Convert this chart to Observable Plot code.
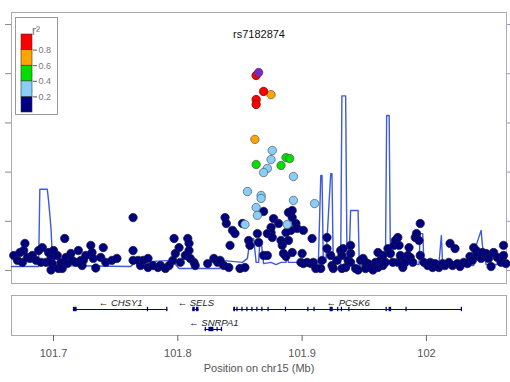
<!DOCTYPE html>
<html><head><meta charset="utf-8">
<script src="https://cdn.jsdelivr.net/npm/d3@7"></script>
<script src="https://cdn.jsdelivr.net/npm/@observablehq/plot@0.6"></script>
<style>
body{margin:0;background:#fff;font-family:"Liberation Sans",Arial,sans-serif;}
#wrap{position:relative;width:510px;height:382px;overflow:hidden;}
#legend{position:absolute;left:15px;top:17px;border:1px solid #999;background:#fff;}
svg{display:block}
</style></head><body>
<div id="wrap"><div id="main"></div><div id="genes"></div><div id="legend"></div></div>
<script>
// ---------- data ----------
const title = "rs7182874";
const xTicks = [101.7, 101.8, 101.9, 102];
const logpTicks = [0, 2, 4, 6, 8, 10];
const recombTicks = [0, 20, 40, 60, 80, 100];
const xTitle = "Position on chr15 (Mb)";

// LD bins (r2 value representative) and colours
const binLo = [0, 0.2, 0.4, 0.6, 0.8];
const binHi = [0.2, 0.4, 0.6, 0.8, 1.0];
const binColor = ["#000080", "#87CEFA", "#00E000", "#FFA500", "#FF0000"];
const legendTicks = [0.2, 0.4, 0.6, 0.8];
const indexColor = "#7D26CD";

// SNPs: [position Mb, -log10 p]
const snpR2lt02 = [
 [101.668,0.61],[101.671,0.41],[101.673,0.73],[101.675,0.33],[101.676,0.81],[101.677,1.10],[101.679,0.53],
 [101.681,0.49],[101.683,0.61],[101.686,0.41],[101.688,0.81],[101.691,0.93],[101.690,0.33],[101.694,0.33],
 [101.696,0.73],[101.698,0.49],[101.699,0.28],[101.698,0.02],[101.700,0.81],[101.703,0.61],[101.704,0.08],
 [101.706,0.33],[101.707,0.08],[101.709,1.30],[101.710,0.53],[101.711,0.28],[101.714,0.69],[101.715,0.41],
 [101.718,0.33],[101.720,0.81],[101.722,0.41],[101.723,0.20],[101.724,0.41],[101.726,0.61],[101.730,1.02],
 [101.731,0.73],[101.732,0.49],[101.734,0.10],[101.738,0.53],[101.740,0.93],[101.742,0.33],[101.747,0.41],
 [101.751,0.49],[101.764,2.15],[101.764,0.81],[101.764,0.41],
 [101.768,0.41],[101.770,0.20],[101.772,0.41],[101.776,0.49],[101.776,0.12],[101.780,0.20],[101.784,0.12],
 [101.786,0.20],[101.790,0.08],[101.793,0.20],[101.796,0.41],[101.797,1.30],[101.798,0.69],[101.801,0.93],
 [101.802,0.33],[101.806,0.61],[101.808,1.30],[101.809,1.10],[101.809,0.81],[101.810,0.49],[101.813,0.33],
 [101.814,0.20],[101.824,0.28],[101.829,0.49],[101.832,0.33],[101.834,0.41],[101.837,0.20],[101.838,2.15],
 [101.839,1.91],[101.841,0.12],[101.842,1.02],[101.844,1.63],[101.846,1.50],[101.850,0.08],[101.854,0.12],
 [101.852,1.91],[101.857,1.22],[101.858,1.02],[101.864,1.50],[101.865,1.14],[101.869,2.40],[101.875,1.75],
 [101.877,2.11],[101.881,1.91],[101.889,2.36],[101.892,2.44],[101.892,2.15],[101.895,1.91],[101.896,1.71],
 [101.875,1.54],[101.872,1.50],[101.876,1.34],[101.883,1.22],[101.884,1.02],[101.889,1.22],[101.901,1.63],
 [101.908,1.30],[101.920,1.34],[101.920,0.89],[101.885,0.69],[101.887,0.57],[101.869,0.61],[101.872,0.61],
 [101.899,0.33],[101.901,0.28],[101.904,0.33],[101.907,0.28],[101.909,0.33],[101.891,1.63],[101.887,1.54],
 [101.892,0.73],[101.900,0.69],[101.911,0.08],[101.915,0.08],[101.916,0.41],[101.923,0.61],[101.924,0.20],
 [101.925,0.08],[101.928,0.41],[101.931,0.81],[101.932,0.61],[101.932,0.08],[101.935,0.12],[101.937,0.41],
 [101.939,1.02],[101.939,0.69],[101.933,0.89],[101.939,0.33],[101.943,0.08],[101.945,0.02],[101.947,0.41],
 [101.949,0.49],[101.951,0.33],[101.951,0.08],[101.953,0.28],[101.955,0.12],[101.957,0.02],[101.959,0.33],
 [101.961,0.12],[101.961,0.73],[101.963,0.41],[101.965,0.20],[101.965,0.61],[101.967,0.33],[101.969,0.89],
 [101.971,0.69],[101.973,0.33],[101.974,1.02],[101.975,1.22],[101.977,1.34],[101.978,1.02],[101.977,0.33],
 [101.979,0.61],[101.981,0.12],[101.982,0.49],[101.983,0.33],[101.985,0.61],[101.986,0.93],[101.987,0.53],
 [101.989,0.33],[101.991,1.34],[101.992,1.50],[101.994,1.22],[101.995,1.91],[101.995,0.61],[101.998,0.33],
 [102.001,0.20],[102.003,0.33],[102.005,0.12],[102.007,0.28],[102.010,0.12],[102.013,0.28],[102.015,0.20],
 [102.018,0.33],[102.019,1.10],[102.021,0.20],[102.023,0.89],[102.025,0.28],[102.027,0.16],[102.030,0.33],
 [102.033,0.28],[102.035,0.57],[102.037,0.41],[102.038,0.93],[102.040,0.81],[102.041,0.61],[102.044,0.49],
 [102.045,0.73],[102.048,0.69],[102.050,0.49],[102.052,0.16],[102.054,0.73],[102.057,0.53],[102.060,0.33],
 [102.062,1.02],[102.062,0.61],[102.064,0.28]
];
const snpR2lt04 = [
 [101.876,4.88],[101.875,4.51],[101.872,4.15],[101.869,3.98],[101.893,3.82],[101.856,3.21],[101.867,3.05],
 [101.867,2.93],[101.893,2.85],[101.910,2.72],[101.863,2.56],[101.864,2.24],[101.854,1.87],[101.888,1.87]
];
const snpR2lt06 = [[101.863,4.31],[101.883,4.27],[101.887,4.59],[101.890,4.55]];
const snpR2lt08 = [[101.862,5.33],[101.875,7.15]];
const snpR2ge08 = [[101.863,7.93],[101.869,7.28],[101.863,6.95],[101.863,6.75]];
const indexSnp = [[101.865,8.05]];

// recombination rate: [position Mb, cM/Mb]
const recomb = [
 [101.6662,1.6],[101.688,1.6],[101.689,33],[101.695,33],[101.696,28.5],[101.698,17],[101.699,6],[101.702,2],
 [101.762,1.6],[101.766,3.3],[101.795,4.1],[101.801,0.8],[101.834,0.8],[101.835,4.1],[101.852,3.3],[101.856,4.9],
 [101.858,12.2],[101.861,13],[101.863,3.3],[101.865,3.3],[101.866,12.2],[101.867,12.2],[101.869,2.8],[101.875,3.3],
 [101.879,2.4],[101.883,3.3],[101.887,3.3],[101.888,5.7],[101.889,3.3],[101.895,3.3],[101.899,2.8],[101.903,2.8],
 [101.907,2.4],[101.913,2],[101.915,38.6],[101.916,38.6],[101.917,4.1],[101.919,3.3],[101.923,39.4],[101.924,39.4],
 [101.925,3.3],[101.931,2.8],[101.932,71],[101.935,71],[101.936,9.3],[101.938,8.1],[101.939,24.4],[101.945,24.4],
 [101.946,2],[101.967,1.6],[101.968,63],[101.970,63],[101.971,5.3],[101.974,3.3],[101.994,2.4],[101.995,15],
 [101.997,15],[101.998,3.3],[102.010,2.4],[102.012,14.2],[102.013,2.8],[102.038,2],[102.040,10.2],[102.044,16.3],
 [102.045,10.2],[102.048,2.4],[102.057,2.4],[102.059,5.7],[102.0644,5.7]
];

// genes
const geneName  = ["CHSY1", "SELS", "SNRPA1", "PCSK6"];
const geneStart = [101.716, 101.812, 101.822, 101.845];
const geneEnd   = [101.792, 101.817, 101.836, 102.029];
const geneRow   = [1, 1, 2, 1];
// exons: [gene index, start, end]
const exons = [
 [0,101.716,101.719],[0,101.7755,101.7765],[0,101.791,101.792],
 [1,101.812,101.814],[1,101.815,101.817],
 [2,101.822,101.823],[2,101.825,101.829],[2,101.8315,101.8325],[2,101.835,101.836],
 [3,101.845,101.8465],[3,101.8475,101.8485],[3,101.8515,101.8525],[3,101.8555,101.8565],[3,101.8595,101.8605],
 [3,101.8635,101.8645],[3,101.8675,101.8685],[3,101.8725,101.8735],[3,101.8865,101.8875],[3,101.9045,101.9055],
 [3,101.9095,101.9105],[3,101.9225,101.925],[3,101.9285,101.9295],[3,101.9315,101.9325],[3,101.9375,101.9385],
 [3,101.9675,101.9685],[3,101.970,101.972],[3,101.9835,101.9845],[3,102.028,102.029]
];

// ---------- drawing ----------
const font = "Liberation Sans, Arial, Helvetica, sans-serif";
const xDomain = [101.6662, 102.0644];
const dotMark = (data, fill, stroke) =>
  Plot.dot(data, {x: d => d[0], y: d => d[1], r: 4.2, fill, stroke, strokeWidth: 0.7});

const main = Plot.plot({
  width: 510, height: 288,
  marginLeft: 11, marginRight: 4, marginTop: 12, marginBottom: 5,
  x: {domain: xDomain, axis: null},
  y: {domain: [-0.53, 10.49], axis: null},
  style: {fontFamily: font, background: "white", overflow: "visible"},
  marks: [
    Plot.frame({stroke: "#aaa"}),
    Plot.axisY({anchor: "left", ticks: logpTicks, tickFormat: () => "", tickSize: 6, stroke: "#888", label: null}),
    Plot.axisY({anchor: "right", ticks: recombTicks.map(v => v / 10), tickFormat: () => "", tickSize: 4, stroke: "#99c", label: null}),
    Plot.ruleX([xDomain[1]], {stroke: "#aab"}),
    Plot.line(recomb, {x: d => d[0], y: d => d[1] / 10, stroke: "#3d5bdb", strokeWidth: 1.4}),
    dotMark(snpR2lt02, binColor[0], "#1a1a40"),
    dotMark(snpR2lt04, binColor[1], "#555"),
    dotMark(snpR2lt06, binColor[2], "#555"),
    dotMark(snpR2lt08, binColor[3], "#555"),
    dotMark(snpR2ge08, binColor[4], "#600"),
    dotMark(indexSnp, indexColor, "#444"),
    Plot.text([title], {frameAnchor: "top", dy: 18, fontSize: 11, fill: "#111"})
  ]
});
document.getElementById("main").appendChild(main);

const geneData = geneName.map((n, i) => ({name: n, start: geneStart[i], end: geneEnd[i], row: geneRow[i]}));
const exonData = exons.map(([g, s, e]) => ({start: s, end: e, row: geneRow[g]}));

const genes = Plot.plot({
  width: 510, height: 94,
  marginLeft: 11, marginRight: 4, marginTop: 7, marginBottom: 47,
  x: {domain: xDomain},
  y: {domain: [0.3, 2.3], reverse: true, axis: null},
  style: {fontFamily: font, background: "white"},
  marks: [
    Plot.frame({stroke: "#aaa"}),
    Plot.ruleY(geneData, {x1: "start", x2: "end", y: "row", stroke: "#000080", strokeWidth: 1}),
    Plot.rect(exonData, {x1: "start", x2: "end", y1: d => d.row - 0.11, y2: d => d.row + 0.11, fill: "#000080"}),
    Plot.text(geneData, {x: d => (d.start + d.end) / 2, y: "row", dy: -7, text: d => "\u2190 " + d.name,
      fontStyle: "italic", fontSize: 9.5, fill: "#222"}),
    Plot.axisX({ticks: xTicks, tickFormat: d => String(d), tickSize: 6, tickPadding: 8, fontSize: 11,
      stroke: "#666", fill: "#555", label: null}),
    Plot.text([xTitle], {frameAnchor: "bottom", dy: 36, fontSize: 11, fill: "#555"})
  ]
});
document.getElementById("genes").appendChild(genes);

const bins = binLo.map((lo, i) => ({lo, hi: binHi[i], color: binColor[i]}));
const legend = Plot.plot({
  width: 41, height: 96,
  marginLeft: 5, marginRight: 25, marginTop: 16, marginBottom: 2,
  y: {domain: [0, 1], axis: null},
  style: {fontFamily: font, background: "white", overflow: "visible"},
  marks: [
    Plot.barY(bins, {y1: "lo", y2: "hi", fill: "color", stroke: "#333", strokeWidth: 0.6}),
    Plot.axisY({anchor: "right", ticks: legendTicks, tickFormat: d => d.toFixed(1), tickSize: 4, tickPadding: 2,
      fontSize: 9, stroke: "#555", fill: "#777", label: null}),
    Plot.text(["r\u00B2"], {frameAnchor: "top", dx: 9, dy: -8, fontSize: 12, fill: "#777"})
  ]
});
document.getElementById("legend").appendChild(legend);
</script></body></html>
